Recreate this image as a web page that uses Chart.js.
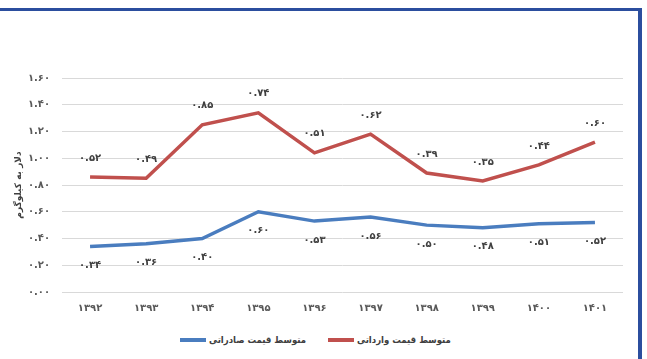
<!DOCTYPE html>
<html lang="fa">
<head>
<meta charset="utf-8">
<script src="https://cdn.jsdelivr.net/npm/chart.js@4.4.1/dist/chart.umd.min.js"></script>
<style>
  html, body { margin: 0; padding: 0; background: #fff; }
  .wrap { position: relative; width: 647px; height: 359px; overflow: hidden; font-family: 'DejaVu Sans', sans-serif; }
  .frame { position: absolute; left: -10px; top: 8px; width: 652px; height: 400px;
           border-top: 3px solid #2b4e9e; border-right: 4px solid #2b4e9e; box-sizing: border-box; }
  canvas { position: absolute; left: 0; top: 0; }
  .legend .item { position: absolute; top: 334px; display: flex; align-items: center; gap: 3px;
                  font-family: 'DejaVu Sans Condensed', 'DejaVu Sans', sans-serif; font-size: 9.5px;
                  font-weight: bold; color: #404040; }
  .legend i { display: inline-block; width: 26px; height: 4px; }
</style>
</head>
<body>
<div class="wrap">
  <div class="frame"></div>
  <canvas id="chart" width="647" height="325"></canvas>
  <div class="legend">
    <span class="item" style="left:180px"><i style="background:#4a7dbf"></i><span dir="rtl">متوسط قیمت صادراتی</span></span>
    <span class="item" style="left:328px"><i style="background:#c0504d"></i><span dir="rtl">متوسط قیمت وارداتی</span></span>
  </div>
</div>
<script>
// سال‌ها (محور افقی)
const years = ['۱۳۹۲', '۱۳۹۳', '۱۳۹۴', '۱۳۹۵', '۱۳۹۶', '۱۳۹۷', '۱۳۹۸', '۱۳۹۹', '۱۴۰۰', '۱۴۰۱'];
// متوسط قیمت صادراتی (دلار به کیلوگرم)
const exportPrice = [0.34, 0.36, 0.40, 0.60, 0.53, 0.56, 0.50, 0.48, 0.51, 0.52];
// متوسط قیمت وارداتی (روی سری صادراتی انباشته می‌شود)
const importPrice = [0.52, 0.49, 0.85, 0.74, 0.51, 0.62, 0.39, 0.35, 0.44, 0.60];
// برچسب‌های محور عمودی
const yTicks = [0, 0.2, 0.4, 0.6, 0.8, 1.0, 1.2, 1.4, 1.6];

const faDigits = '۰۱۲۳۴۵۶۷۸۹';
const toFa = (s) => String(s).replace(/[0-9]/g, (d) => faDigits[d]);

const FONT = 'DejaVu Sans';

// نوشتن مقدار هر نقطه بالای خط قرمز و زیر خط آبی
const valueLabels = {
  id: 'valueLabels',
  afterDatasetsDraw(chart) {
    const ctx = chart.ctx;
    ctx.save();
    ctx.font = `bold 10px "${FONT}"`;
    ctx.fillStyle = '#404040';
    ctx.textAlign = 'center';
    ctx.textBaseline = 'middle';
    chart.data.datasets.forEach((ds, i) => {
      const meta = chart.getDatasetMeta(i);
      const dy = ds.labelSide === 'top' ? -19 : 19;
      meta.data.forEach((pt, j) => {
        ctx.fillText(toFa(ds.data[j].toFixed(2)), pt.x, pt.y + dy);
      });
    });
    ctx.restore();
  },
};

new Chart(document.getElementById('chart'), {
  type: 'line',
  data: {
    labels: years,
    datasets: [
      {
        label: 'متوسط قیمت صادراتی',
        data: exportPrice,
        borderColor: '#4a7dbf',
        backgroundColor: '#4a7dbf',
        borderWidth: 3.5,
        pointRadius: 0,
        tension: 0,
        fill: false,
        labelSide: 'bottom',
      },
      {
        label: 'متوسط قیمت وارداتی',
        data: importPrice,
        borderColor: '#c0504d',
        backgroundColor: '#c0504d',
        borderWidth: 3.5,
        pointRadius: 0,
        tension: 0,
        fill: false,
        labelSide: 'top',
      },
    ],
  },
  options: {
    responsive: false,
    animation: false,
    layout: { padding: { left: 10, top: 78, right: 24, bottom: 0 } },
    plugins: {
      legend: { display: false },
      tooltip: { enabled: false },
    },
    scales: {
      x: {
        offset: true,
        grid: { display: false, drawTicks: false },
        border: { display: false },
        ticks: { color: '#595959', font: { family: FONT, size: 10, weight: 'bold' }, padding: 10 },
        afterFit: (s) => { s.height = 33; },
      },
      y: {
        stacked: true,
        min: 0,
        max: 1.6,
        afterBuildTicks: (s) => { s.ticks = yTicks.map((v) => ({ value: v })); },
        grid: { color: '#d9d9d9', drawTicks: false },
        border: { display: false },
        ticks: {
          color: '#595959',
          font: { family: FONT, size: 10, weight: 'bold' },
          padding: 12,
          callback: (v) => toFa(Number(v).toFixed(2)),
        },
        title: {
          display: true,
          text: 'دلار به کیلوگرم',
          color: '#404040',
          font: { family: FONT, size: 9, weight: 'bold' },
          padding: { top: 3, bottom: 0 },
        },
        afterFit: (s) => { s.width = 52; },
      },
    },
  },
  plugins: [valueLabels],
});
</script>
</body>
</html>
